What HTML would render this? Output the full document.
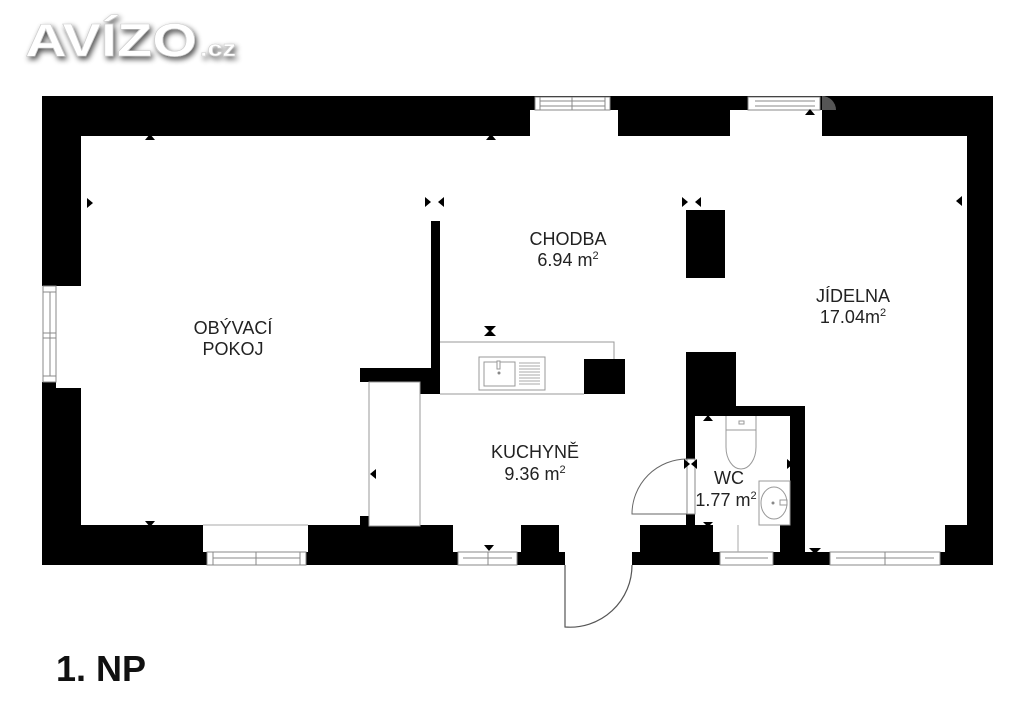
<!DOCTYPE html>
<html><head><meta charset="utf-8"><style>
html,body{margin:0;padding:0;background:#fff;width:1024px;height:724px;overflow:hidden}
svg{display:block}
text{font-family:"Liberation Sans",sans-serif;fill:#222}
</style></head><body>
<svg width="1024" height="724" viewBox="0 0 1024 724" xmlns="http://www.w3.org/2000/svg">
<defs>
<filter id="sh" x="-20%" y="-50%" width="140%" height="200%"><feGaussianBlur in="SourceAlpha" stdDeviation="3"/><feOffset dx="2" dy="3"/><feComponentTransfer><feFuncA type="linear" slope="0.7"/></feComponentTransfer><feMerge><feMergeNode/><feMergeNode in="SourceGraphic"/></feMerge></filter>
</defs>
<g filter="url(#sh)">
<text x="25" y="56" textLength="172" lengthAdjust="spacingAndGlyphs" style="font-weight:bold;font-size:46px;fill:#fff;stroke:#ccc;stroke-width:0.6">AVÍZO</text>
<text x="200" y="56" textLength="36" lengthAdjust="spacingAndGlyphs" style="font-weight:bold;font-size:22px;fill:#fff;stroke:#ccc;stroke-width:0.5">.cz</text>
</g>
<g fill="#000">
<rect x="42" y="96" width="951" height="40"/>
<rect x="42" y="96" width="39" height="190"/>
<rect x="42" y="382" width="14" height="183"/>
<rect x="42" y="388" width="39" height="177"/>
<rect x="967" y="96" width="26" height="469"/>
<rect x="42" y="525" width="951" height="40"/>
</g>
<g fill="#fff" stroke="#888" stroke-width="1">
<rect x="530" y="110" width="88" height="26" stroke="none"/>
<rect x="535" y="97" width="75" height="13"/>
<line x1="540" y1="97" x2="540" y2="110"/><line x1="605" y1="97" x2="605" y2="110"/>
<line x1="572" y1="97" x2="572" y2="110"/><line x1="540" y1="101" x2="605" y2="101"/><line x1="540" y1="106" x2="605" y2="106"/>
<rect x="730" y="110" width="92" height="26" stroke="none"/>
<rect x="748" y="97" width="72" height="13"/>
<line x1="755" y1="101" x2="815" y2="101"/><line x1="755" y1="106" x2="815" y2="106"/>
</g>
<path d="M822 96 A14 14 0 0 1 836 110 L822 110Z" fill="#555"/>
<rect x="43" y="286" width="38" height="96" fill="#fff"/>
<rect x="56" y="382" width="25" height="6" fill="#fff"/>
<g fill="none" stroke="#888"><rect x="43" y="286" width="13" height="96"/><line x1="43" y1="292" x2="56" y2="292"/><line x1="43" y1="376" x2="56" y2="376"/><line x1="43" y1="333" x2="56" y2="333"/><line x1="43" y1="338" x2="56" y2="338"/><line x1="50" y1="292" x2="50" y2="376"/></g>
<g fill="#fff">
<rect x="203" y="525" width="105" height="27"/>
<rect x="453" y="525" width="68" height="27"/>
<rect x="559" y="525" width="81" height="27"/>
<rect x="565" y="552" width="67" height="13"/>
<rect x="713" y="525" width="67" height="27"/>
<rect x="805" y="525" width="20" height="27"/>
<rect x="825" y="525" width="120" height="27"/>
</g>
<g fill="#fff" stroke="#888">
<rect x="207" y="552" width="99" height="13"/><line x1="213" y1="552" x2="213" y2="565"/><line x1="300" y1="552" x2="300" y2="565"/><line x1="256" y1="552" x2="256" y2="565"/><line x1="213" y1="558" x2="300" y2="558"/>
<rect x="458" y="552" width="59" height="13"/><line x1="463" y1="558" x2="512" y2="558"/><line x1="488" y1="552" x2="488" y2="565"/>
<rect x="720" y="552" width="53" height="13"/><line x1="725" y1="558" x2="768" y2="558"/>
<rect x="830" y="552" width="110" height="13"/><line x1="836" y1="558" x2="934" y2="558"/><line x1="885" y1="552" x2="885" y2="565"/>
</g>
<line x1="203" y1="525" x2="308" y2="525" stroke="#aaa"/>
<line x1="738" y1="525" x2="738" y2="552" stroke="#aaa"/>
<path d="M565 565 L565 627 A62 62 0 0 0 632 565" fill="none" stroke="#555" stroke-width="1.2"/>
<g fill="#000">
<rect x="431" y="221" width="9" height="173"/>
<rect x="420" y="370" width="20" height="24"/>
<rect x="360" y="368" width="80" height="14"/>
<rect x="360" y="516" width="9" height="10"/>
<rect x="686" y="210" width="39" height="68"/>
<rect x="686" y="352" width="50" height="64"/>
<rect x="686" y="352" width="9" height="107"/>
<rect x="686" y="514" width="9" height="12"/>
<rect x="736" y="406" width="69" height="10"/>
<rect x="790" y="406" width="15" height="149"/>
<rect x="584" y="359" width="41" height="35"/>
</g>
<rect x="369" y="382" width="51" height="144" fill="#fff" stroke="#999"/>
<rect x="360" y="382" width="9" height="134" fill="#fff"/>
<line x1="369" y1="382" x2="369" y2="516" stroke="#999"/>
<path d="M440 342 L614 342 L614 359" fill="none" stroke="#999"/>
<line x1="440" y1="394" x2="584" y2="394" stroke="#999"/>
<g fill="none" stroke="#999"><rect x="479" y="357" width="66" height="33"/><rect x="484" y="362" width="31" height="24"/></g>
<g stroke="#aaa"><line x1="519" y1="363" x2="540" y2="363"/><line x1="519" y1="366" x2="540" y2="366"/><line x1="519" y1="369" x2="540" y2="369"/><line x1="519" y1="372" x2="540" y2="372"/><line x1="519" y1="375" x2="540" y2="375"/><line x1="519" y1="378" x2="540" y2="378"/><line x1="519" y1="381" x2="540" y2="381"/><line x1="519" y1="384" x2="540" y2="384"/></g>
<circle cx="499" cy="373" r="1.5" fill="#888"/><rect x="497" y="361" width="3" height="8" fill="#fff" stroke="#999"/>
<rect x="687" y="459" width="8" height="55" fill="#fff" stroke="#888"/>
<path d="M687 459 A55 55 0 0 0 632 514 L687 514" fill="none" stroke="#666" stroke-width="1"/>
<g fill="none" stroke="#999"><path d="M726 416 L726 447 A15 22 0 0 0 756 447 L756 416"/><line x1="726" y1="430" x2="756" y2="430"/><rect x="739" y="421" width="5" height="3"/>
<rect x="759" y="481" width="31" height="44"/><ellipse cx="774" cy="503" rx="13" ry="16"/><rect x="780" y="500" width="7" height="5"/></g>
<circle cx="773" cy="503" r="1.5" fill="#888"/>
<g fill="#000">
<path d="M145 140 L155 140 L150 134Z"/><path d="M486 140 L496 140 L491 134Z"/><path d="M805 115 L815 115 L810 109Z"/>
<path d="M87 198 L93 203 L87 208Z"/>
<path d="M962 196 L956 201 L962 206Z"/>
<path d="M425 197 L431 202 L425 207Z"/><path d="M444 197 L438 202 L444 207Z"/>
<path d="M682 197 L688 202 L682 207Z"/><path d="M701 197 L695 202 L701 207Z"/>
<path d="M484 326 L496 326 L490 332Z"/><path d="M484 336 L496 336 L490 330Z"/>
<path d="M376 469 L370 474 L376 479Z"/>
<path d="M145 521 L155 521 L150 527Z"/><path d="M484 545 L494 545 L489 551Z"/>
<path d="M684 459 L690 464 L684 469Z"/><path d="M697 459 L691 464 L697 469Z"/>
<path d="M787 459 L793 464 L787 469Z"/>
<path d="M703 421 L713 421 L708 415Z"/><path d="M703 522 L713 522 L708 527Z"/>
<path d="M809 548 L821 548 L815 554Z"/>
</g>
<g font-size="18" text-anchor="middle">
<text x="233" y="334">OBÝVACÍ</text><text x="233" y="355">POKOJ</text>
<text x="568" y="245">CHODBA</text><text x="568" y="266">6.94 m<tspan font-size="11" dy="-7">2</tspan></text>
<text x="853" y="302">JÍDELNA</text><text x="853" y="323">17.04m<tspan font-size="11" dy="-7">2</tspan></text>
<text x="535" y="458">KUCHYNĚ</text><text x="535" y="480">9.36 m<tspan font-size="11" dy="-7">2</tspan></text>
<text x="729" y="484">WC</text><text x="726" y="506">1.77 m<tspan font-size="11" dy="-7">2</tspan></text>
</g>
<text x="56" y="681" style="font-weight:bold;font-size:36px;fill:#111">1. NP</text>
</svg>
</body></html>
